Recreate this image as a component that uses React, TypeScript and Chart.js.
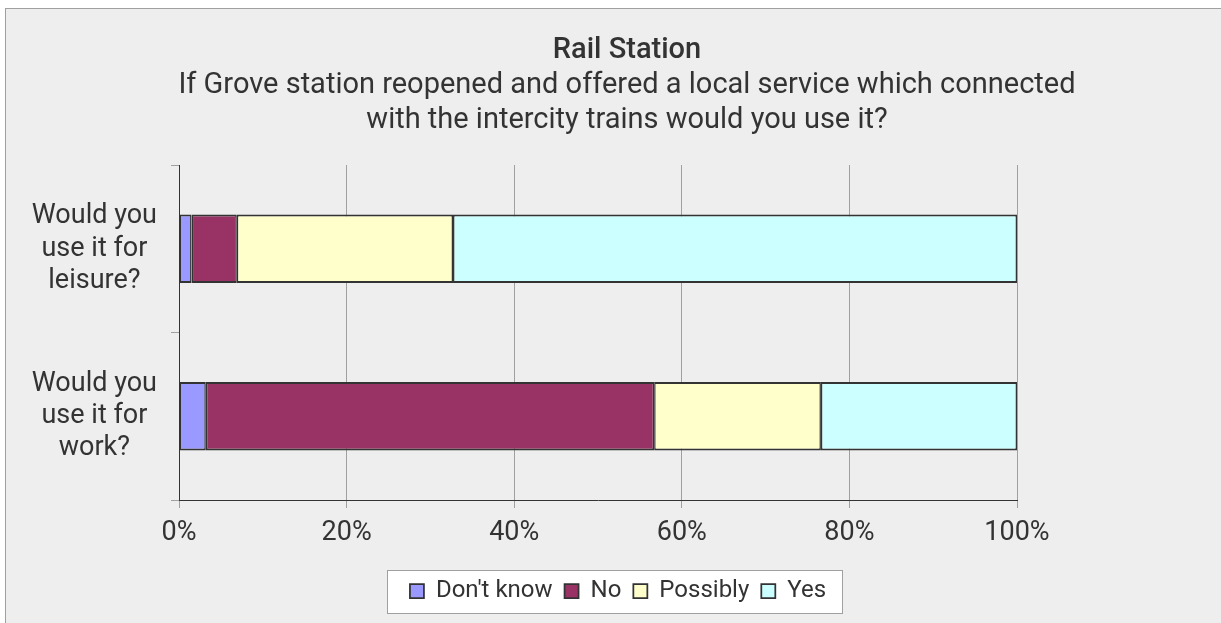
import React, { useEffect, useRef } from "react";
import { Chart, registerables } from "chart.js";

Chart.register(...registerables);

const categories = [
  ["Would you", "use it for", "leisure?"],
  ["Would you", "use it for", "work?"],
];
const seriesNames = ["Don't know", "No", "Possibly", "Yes"];
const dontKnow = [1.5, 3.2];
const no = [5.4, 53.5];
const possibly = [25.8, 19.9];
const yes = [67.3, 23.4];
const xTicks = [0, 20, 40, 60, 80, 100];
const titleText = "Rail Station";
const subtitleLines = [
  "If Grove station reopened and offered a local service which connected",
  "with the intercity trains would you use it?",
];

const seriesColors = ["#9999FF", "#993366", "#FFFFCC", "#CCFFFF"];
const FONT = "Roboto";

const bgPlugin = {
  id: "bgBox",
  afterLayout(chart: any) {
    const lg = chart.legend;
    if (lg) {
      lg.left -= 9;
      lg.right -= 9;
    }
  },
  beforeDraw(chart: any) {
    const ctx = chart.ctx;
    ctx.save();
    ctx.fillStyle = "#ffffff";
    ctx.fillRect(0, 0, chart.width, chart.height);
    ctx.fillStyle = "#EEEEEE";
    ctx.fillRect(5, 8, chart.width, chart.height);
    ctx.strokeStyle = "#A0A0A0";
    ctx.lineWidth = 1;
    ctx.strokeRect(5.5, 8.5, chart.width + 20, chart.height + 20);
    const lg = chart.legend;
    if (lg && lg.legendHitBoxes && lg.legendHitBoxes.length) {
      const hb = lg.legendHitBoxes;
      let minL = Infinity, maxR = -Infinity;
      const top = hb[0].top, h = hb[0].height;
      hb.forEach((b: any) => {
        minL = Math.min(minL, b.left);
        maxR = Math.max(maxR, b.left + b.width);
      });
      const x0 = Math.round(minL - 23) + 0.5;
      const x1 = Math.round(maxR + 16) + 0.5;
      const y0 = Math.round(top - 9.5) + 0.5;
      const y1 = Math.round(top + h + 10) + 0.5;
      ctx.fillStyle = "#ffffff";
      ctx.fillRect(x0, y0, x1 - x0, y1 - y0);
      ctx.strokeStyle = "#A0A0A0";
      ctx.strokeRect(x0, y0, x1 - x0, y1 - y0);
    }
    ctx.restore();
  },
};

export default function App() {
  const ref = useRef<HTMLCanvasElement | null>(null);

  useEffect(() => {
    if (!ref.current) return;
    const values = [dontKnow, no, possibly, yes];
    const chart = new Chart(ref.current, {
      type: "bar",
      data: {
        labels: categories as any,
        datasets: seriesNames.map((name, i) => ({
          label: name,
          data: values[i],
          backgroundColor: seriesColors[i],
          borderColor: "#333333",
          borderWidth: { top: 2, bottom: 2, left: 1.5, right: 1.5 } as any,
          borderSkipped: false,
          barPercentage: 0.41,
          categoryPercentage: 1,
          yAxisID: "y",
        })),
      },
      options: {
        indexAxis: "y",
        responsive: false,
        animation: false,
        layout: { padding: { top: 0, left: 0, right: 0, bottom: 10 } },
        scales: {
          x: {
            stacked: true,
            min: 0,
            max: 100,
            afterBuildTicks: (s: any) => {
              s.ticks = xTicks.map((v) => ({ value: v }));
            },
            afterFit: (s: any) => {
              s.height = 67;
            },
            ticks: {
              callback: (v: any) => v + "%",
              color: "#333333",
              font: { family: FONT, size: 27 },
              padding: 9,
              maxRotation: 0,
            },
            grid: { color: "#A0A0A0", tickLength: 8, lineWidth: 1 },
            border: { color: "#333333", width: 1 },
          },
          y: {
            stacked: true,
            afterFit: (s: any) => {
              s.width = 179;
            },
            ticks: {
              color: "#333333",
              font: { family: FONT, size: 27 },
              crossAlign: "center",
              padding: 14,
            },
            grid: { drawOnChartArea: false, color: "#A0A0A0", tickLength: 8, offset: true },
            border: { color: "#333333", width: 1 },
          },
          yR: {
            type: "linear",
            position: "right",
            display: true,
            grid: { display: false, drawTicks: false },
            border: { display: false },
            ticks: { display: false },
            afterFit: (s: any) => {
              s.width = 237;
            },
          },
        } as any,
        plugins: {
          title: {
            display: true,
            text: titleText,
            color: "#333333",
            font: { family: FONT, size: 29, weight: "500", lineHeight: 1.2 },
            padding: { top: 33, bottom: 0 },
          },
          subtitle: {
            display: true,
            text: subtitleLines,
            color: "#333333",
            font: { family: FONT, size: 29, lineHeight: 35 / 29 },
            padding: { top: 0, bottom: 27.2 },
          },
          legend: {
            display: true,
            position: "bottom",
            labels: {
              boxWidth: 14,
              boxHeight: 14,
              padding: 12,
              color: "#333333",
              font: { family: FONT, size: 24 },
            },
          },
          tooltip: { enabled: false },
        },
      },
      plugins: [bgPlugin],
    });
    return () => chart.destroy();
  }, []);

  return (
    <div
      style={{
        position: "absolute",
        left: 0,
        top: 0,
        width: 1221,
        height: 623,
        overflow: "hidden",
        background: "#fff",
      }}
    >
      <canvas ref={ref} width={1254} height={623} style={{ display: "block", width: 1254, height: 623 }} />
    </div>
  );
}
